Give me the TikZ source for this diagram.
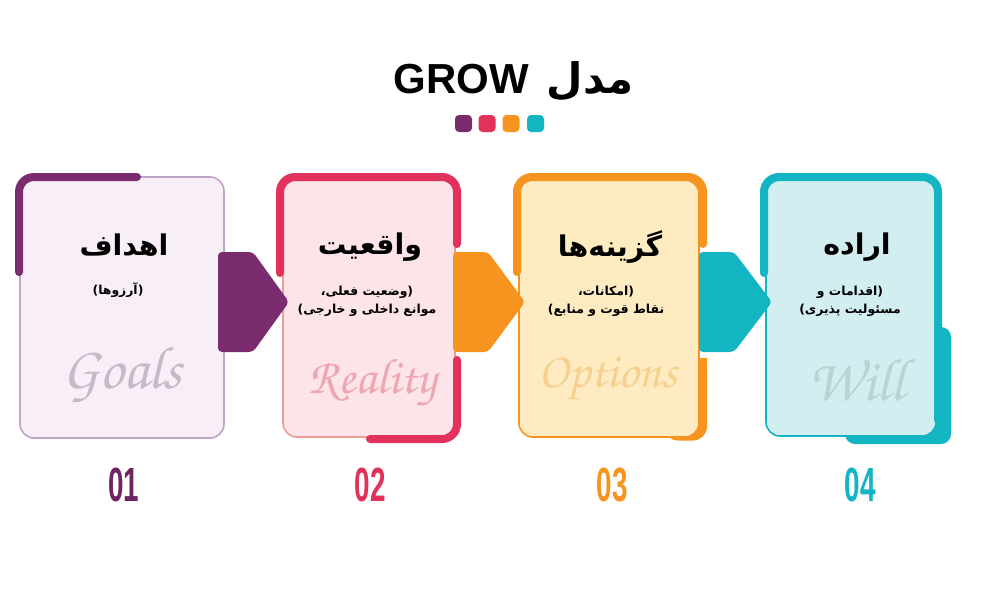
\documentclass[tikz,border=0pt]{standalone}
\usepackage[T1]{fontenc}
\usepackage{fontspec}
\setmainfont{DejaVu Sans}
\TeXXeTstate=1
\newfontfamily\arabicfont[Script=Arabic]{DejaVu Sans}
\newfontfamily\titlefont{Liberation Sans}
\newcommand\ghostfont{\fontencoding{T1}\fontfamily{pzc}\fontseries{mb}\fontshape{it}\selectfont}
\newcommand\ar[1]{\beginR#1\endR}
\definecolor{cpurple}{HTML}{7B2C6F}
\definecolor{cred}{HTML}{E2325C}
\definecolor{corange}{HTML}{F7941F}
\definecolor{cteal}{HTML}{12B5C1}
\definecolor{fpurple}{HTML}{F8EEF8}
\definecolor{fred}{HTML}{FDE4E8}
\definecolor{forange}{HTML}{FEEBC2}
\definecolor{fteal}{HTML}{D3EEF1}
\definecolor{bpurple}{HTML}{BFA5C5}
\definecolor{bred}{HTML}{EE9D92}
\definecolor{gpurple}{HTML}{C9B8C8}
\definecolor{gred}{HTML}{EDA7B1}
\definecolor{gorange}{HTML}{F6D08F}
\definecolor{gteal}{HTML}{B9D4D5}
\definecolor{npurple}{HTML}{6F2565}
\tikzset{
  bar/.style={line width=8pt, line cap=round, rounded corners=15pt},
  card/.style={line width=1.6pt, rounded corners=14pt},
  pent/.style={rounded corners=4pt},
  heading/.style={font=\arabicfont\bfseries\fontsize{28.5}{32}\selectfont, inner sep=0pt},
  sub/.style={font=\arabicfont\bfseries\fontsize{12.4}{18}\selectfont, align=center, inner sep=0pt},
  ghost/.style={font=\ghostfont\fontsize{50}{50}\selectfont, inner sep=0pt},
  num/.style={font=\titlefont\bfseries\fontsize{48}{48}\selectfont, inner sep=0pt},
  dot/.style={minimum size=17pt, inner sep=0pt, rounded corners=4pt}
}
\begin{document}
\begin{tikzpicture}[x=1pt,y=-1pt]
\useasboundingbox[fill=white] (0,0) rectangle (1000,600);

% title
\node[font=\titlefont\bfseries\fontsize{42}{42}\selectfont, anchor=base, inner sep=0pt] (grow) at (461.5,93) {GROW};
\node[font=\arabicfont\bfseries\fontsize{42}{42}\selectfont, anchor=base, inner sep=0pt] (madal) at (590,93) {\ar{مدل}};
\node[dot, fill=cpurple] (d1) at (463.5,123.5) {};
\node[dot, fill=cred] (d2) at (487,123.5) {};
\node[dot, fill=corange] (d3) at (511,123.5) {};
\node[dot, fill=cteal] (d4) at (535.5,123.5) {};

% shadows
\fill[corange, rounded corners=14pt] (664,357) rectangle (707,440.5);
\fill[cteal, rounded corners=10pt] (845,327) rectangle (951,444);

% cards
\draw[card, fill=fpurple, draw=bpurple] (20,177) rectangle (224,438);
\draw[card, fill=fred, draw=bred] (283,180) rectangle (455,437);
\draw[card, fill=forange, draw=corange] (519,180) rectangle (699,437);
\draw[card, fill=fteal, draw=cteal] (766,180) rectangle (936,436);

% bars
\draw[bar, cpurple] (19,272) -- (19,177) -- (137,177);
\draw[bar, cred] (280,273) -- (280,177) -- (457,177) -- (457,244);
\draw[bar, cred] (457,360) -- (457,439) -- (370,439);
\draw[bar, corange] (517,272) -- (517,177) -- (703,177) -- (703,244);
\draw[bar, corange, line cap=butt] (703,358) -- (703,420);
\draw[bar, cteal] (764,273) -- (764,177) -- (938,177) -- (938,420);

% arrows
\fill[pent, cpurple] (218,252) -- (253,252) -- (289,302) -- (253,352) -- (218,352) -- cycle;
\fill[pent, corange] (453,252) -- (488,252) -- (525,302) -- (488,352) -- (453,352) -- cycle;
\fill[pent, cteal] (699,252) -- (734,252) -- (772,302) -- (734,352) -- (699,352) -- cycle;

% card texts
\node[heading] (h1) at (124,245) {\ar{اهداف}};
\node[sub] (s1) at (118,290) {\ar{(آرزوها)}};
\node[ghost, text=gpurple, font=\ghostfont\fontsize{60}{60}\selectfont] (g1) at (122,374) {Goals};

\node[heading] (h2) at (370,247) {\ar{واقعیت}};
\node[sub] (s2) at (367,301) {\ar{(وضعیت فعلی،}\\\ar{موانع داخلی و خارجی)}};
\node[ghost, text=gred] (g2) at (372,383) {Reality};

\node[heading] (h3) at (610,247) {\ar{گزینه^^^^200cها}};
\node[sub] (s3) at (606,301) {\ar{(امکانات،}\\\ar{نقاط قوت و منابع)}};
\node[ghost, text=gorange] (g3) at (608,380) {Options};

\node[heading] (h4) at (857,247) {\ar{اراده}};
\node[sub] (s4) at (850,301) {\ar{(اقدامات و}\\\ar{مسئولیت پذیری)}};
\node[ghost, text=gteal, font=\ghostfont\fontsize{60}{60}\selectfont] (g4) at (857,380) {Will};

% numbers
\node[num, text=npurple] (n1) at (124,485) {\scalebox{0.58}[1]{01}};
\node[num, text=cred] (n2) at (370,485) {\scalebox{0.58}[1]{02}};
\node[num, text=corange] (n3) at (612,485) {\scalebox{0.58}[1]{03}};
\node[num, text=cteal] (n4) at (860,485) {\scalebox{0.58}[1]{04}};
\end{tikzpicture}
\end{document}
